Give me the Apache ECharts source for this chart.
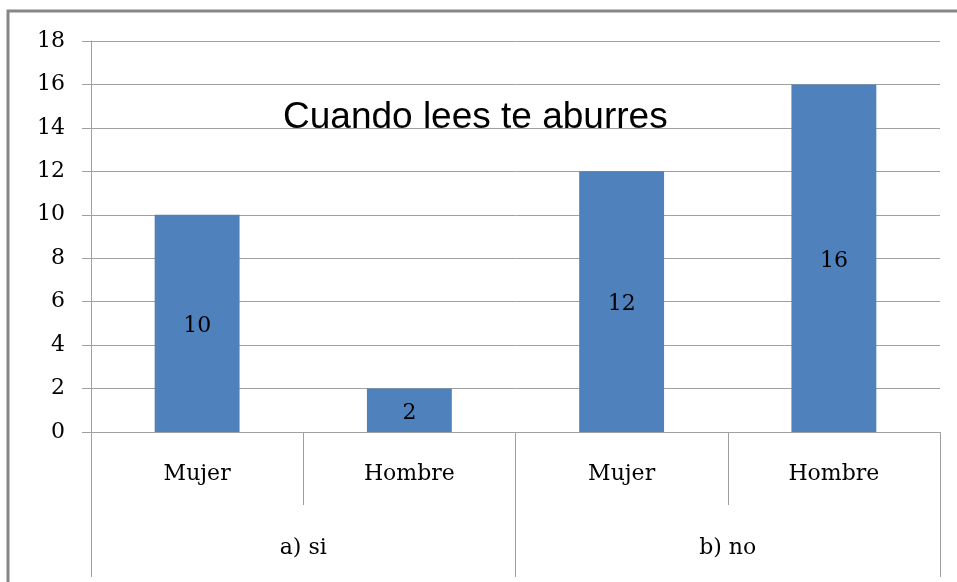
<!DOCTYPE html>
<html>
<head>
<meta charset="utf-8">
<script src="https://cdn.jsdelivr.net/npm/echarts@6/dist/echarts.min.js"></script>
<style>
  html, body { margin: 0; padding: 0; background: #fff; }
  #chart { width: 957px; height: 582px; }
</style>
</head>
<body>
<div id="chart"></div>
<script>
const titleText = 'Cuando lees te aburres'
const subCategories = ['Mujer', 'Hombre', 'Mujer', 'Hombre']
const groupCategories = ['a) si', 'b) no']
const values = [10, 2, 12, 16]

const serif = '"DejaVu Serif", "Liberation Serif", serif'
const gridColor = '#A0A0A0'

const chart = echarts.init(document.getElementById('chart'))

const option = {
  animation: false,
  backgroundColor: '#fff',
  title: {
    text: titleText,
    left: 278,
    top: 94,
    textStyle: {
      fontFamily: '"Liberation Sans", Arial, sans-serif',
      fontWeight: 'normal',
      fontSize: 37,
      color: '#000'
    }
  },
  graphic: [
    {
      type: 'rect',
      shape: { x: 8, y: 11, width: 1000, height: 600 },
      style: { fill: 'none', stroke: '#878787', lineWidth: 3 },
      silent: true
    }
  ],
  grid: {
    left: 91,
    right: 17,
    top: 41,
    bottom: 150
  },
  xAxis: [
    {
      type: 'category',
      data: subCategories,
      position: 'bottom',
      axisLine: { show: true, lineStyle: { color: gridColor, width: 1 } },
      axisTick: { show: true, interval: 0, length: 73, lineStyle: { color: gridColor } },
      axisLabel: {
        interval: 0,
        margin: 31,
        color: '#000',
        fontFamily: serif,
        fontSize: 22
      }
    },
    {
      type: 'category',
      data: groupCategories,
      position: 'bottom',
      axisLine: { show: false },
      axisTick: { show: true, interval: 0, length: 145, lineStyle: { color: gridColor } },
      axisLabel: {
        interval: 0,
        margin: 105,
        color: '#000',
        fontFamily: serif,
        fontSize: 22
      }
    }
  ],
  yAxis: {
    type: 'value',
    min: 0,
    max: 18,
    interval: 2,
    axisLine: { show: true, lineStyle: { color: gridColor } },
    axisTick: { show: true, length: 9, lineStyle: { color: gridColor } },
    axisLabel: {
      margin: 26,
      color: '#000',
      fontFamily: serif,
      fontSize: 22
    },
    splitLine: { lineStyle: { color: gridColor, width: 1 } }
  },
  series: [
    {
      type: 'bar',
      xAxisIndex: 0,
      data: values,
      barWidth: '40%',
      itemStyle: { color: '#4F81BD' },
      label: {
        show: true,
        position: 'inside',
        offset: [0, 3],
        color: '#000',
        fontFamily: serif,
        fontSize: 22
      }
    }
  ]
}

chart.setOption(option)
</script>
</body>
</html>
